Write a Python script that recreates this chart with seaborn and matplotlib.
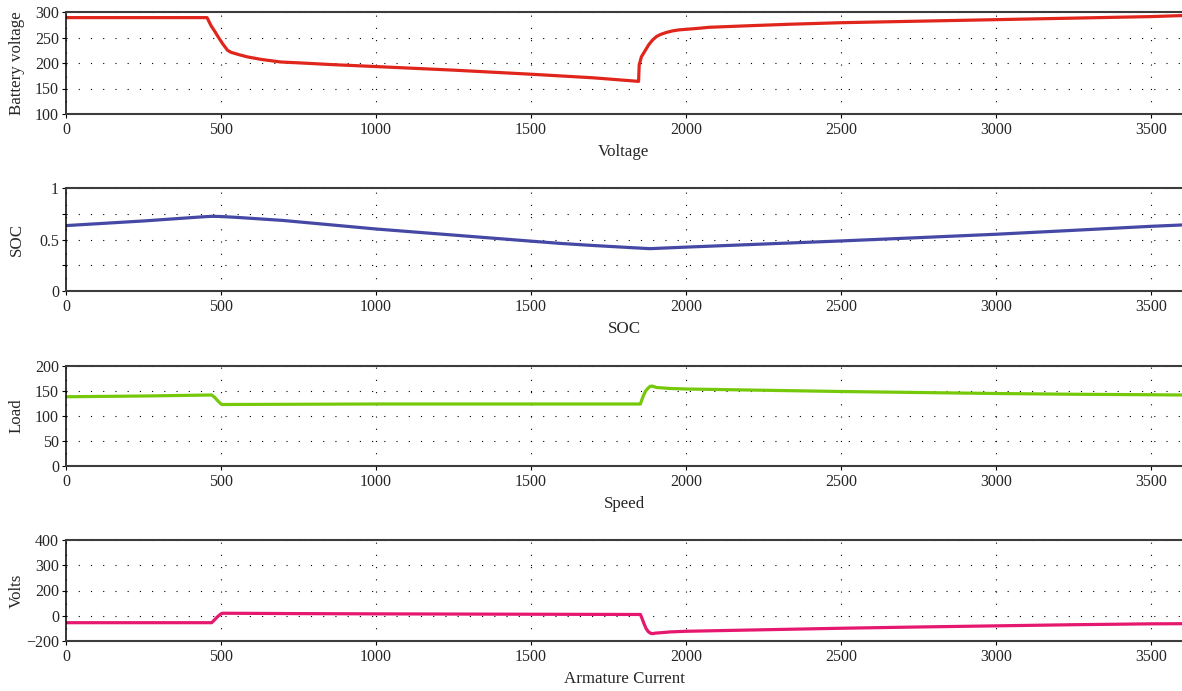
import numpy as np
import pandas as pd
import matplotlib
matplotlib.use("Agg")
import matplotlib.pyplot as plt
import seaborn as sns

# ---------------- data ----------------
x_ticks = [0, 500, 1000, 1500, 2000, 2500, 3000, 3500]

t_volt = [0, 455, 468, 480, 489, 505, 521, 532, 560, 585, 630, 692, 760, 853, 1000, 1250,
          1500, 1700, 1847, 1849, 1856, 1866, 1880, 1892, 1905, 1918, 1937, 1957, 1978,
          2000, 2040, 2074, 2200, 2334, 2500, 2750, 3000, 3250, 3500, 3600]
battery_voltage = [289, 289, 273, 262, 253, 238, 225, 221, 216, 212, 207, 202, 200, 197, 193, 186,
                   178, 171, 164, 196, 212, 222, 236, 245, 252, 256, 260, 263, 265,
                   266, 268, 270, 273, 276, 279, 282, 285, 288, 291, 293]

t_soc = [0, 250, 440, 470, 500, 550, 700, 1000, 1250, 1500, 1600, 1700, 1800, 1883,
         2000, 2250, 2500, 2750, 3000, 3250, 3500, 3600]
soc = [0.635, 0.68, 0.72, 0.725, 0.723, 0.715, 0.685, 0.602, 0.543, 0.484, 0.461, 0.442,
       0.425, 0.411, 0.426, 0.456, 0.486, 0.518, 0.551, 0.589, 0.628, 0.641]

t_load = [0, 250, 470, 480, 490, 500, 505, 750, 1000, 1500, 1853, 1859, 1865, 1871, 1878,
          1884, 1890, 1905, 1950, 2000, 2250, 2500, 2750, 3000, 3250, 3500, 3600]
load = [138.5, 140, 142, 137, 130, 124, 123, 123.5, 124, 124, 124, 135, 144, 151, 156,
        159, 160, 157, 155, 154, 151.5, 149, 147, 145, 143.5, 142.5, 142]

t_arm = [0, 250, 470, 480, 490, 500, 505, 750, 1000, 1500, 1853, 1858, 1864, 1871, 1878,
         1885, 1892, 1900, 1950, 2000, 2250, 2500, 2750, 3000, 3250, 3500, 3600]
armature = [-55, -55, -55, -30, -5, 15, 20, 17, 15, 12, 10, -20, -60, -100, -125,
            -138, -142, -138, -128, -123, -111, -99, -89, -80, -71, -64, -63]

panels = [
    dict(t=t_volt, y=battery_voltage, color="#e0261c", ylabel="Battery voltage", xlabel="Voltage"),
    dict(t=t_soc, y=soc, color="#4549a5", ylabel="SOC", xlabel="SOC"),
    dict(t=t_load, y=load, color="#76c80a", ylabel="Load", xlabel="Speed"),
    dict(t=t_arm, y=armature, color="#e5176e", ylabel="Volts", xlabel="Armature Current"),
]

volt_ticks = [100, 150, 200, 250, 300]
soc_ticks = [0, 0.25, 0.5, 0.75, 1]
soc_ticklabels = ["0", "", "0.5", "", "1"]
load_ticks = [0, 50, 100, 150, 200]
arm_ticks = [-200, 0, 200, 300, 400]

# ---------------- style ----------------
sns.set_style("white")
plt.rcParams["font.family"] = ["Liberation Serif", "DejaVu Serif"]
plt.rcParams["axes.unicode_minus"] = True

W, H = 1182, 691
fig = plt.figure(figsize=(W / 100, H / 100), dpi=100)

# axes boxes in pixels: (top, bottom)
boxes = [(12, 114), (188, 291), (366, 466), (540, 641)]
left_px = 66

axes = []
for (top, bot) in boxes:
    ax = fig.add_axes([left_px / W, 1 - bot / H, (W - left_px) / W, (bot - top) / H])
    axes.append(ax)

for ax, p in zip(axes, panels):
    df = pd.DataFrame({"t": p["t"], "v": p["y"]})
    sns.lineplot(data=df, x="t", y="v", ax=ax, color=p["color"], linewidth=2.3,
                 estimator=None, sort=False)
    ax.set_xlim(0, 3600)
    ax.set_xticks(x_ticks)
    ax.set_xlabel(p["xlabel"], fontsize=12.2, labelpad=4)
    ax.set_ylabel(p["ylabel"], fontsize=12.2)
    ax.tick_params(axis="both", which="major", labelsize=11.5, direction="out",
                   length=3, width=0.8, color="black", pad=2,
                   bottom=True, left=True, top=False, right=False)
    ax.tick_params(axis="x", pad=3)
    ax.grid(True, color="black", linestyle=(0, (1, 10)), linewidth=0.8)
    ax.spines["right"].set_visible(False)
    for s in ("top", "bottom"):
        ax.spines[s].set_color("#3c3c3c")
        ax.spines[s].set_linewidth(1.5)
    ax.spines["left"].set_color("black")
    ax.spines["left"].set_linewidth(1.1)

# y axes
axes[0].set_ylim(100, 300)
axes[0].set_yticks(volt_ticks)

axes[1].set_ylim(0, 1)
axes[1].set_yticks(soc_ticks, labels=soc_ticklabels)

axes[2].set_ylim(0, 200)
axes[2].set_yticks(load_ticks)

pos = np.arange(len(arm_ticks), dtype=float)
def fwd(v):
    return np.interp(v, arm_ticks, pos)
def inv(p):
    return np.interp(p, pos, arm_ticks)
axes[3].set_yscale("function", functions=(fwd, inv))
axes[3].set_ylim(-200, 400)
axes[3].set_yticks(arm_ticks)
axes[3].yaxis.set_major_formatter(matplotlib.ticker.FuncFormatter(
    lambda v, _: f"{int(round(v))}".replace("-", "\u2212")))
axes[3].yaxis.set_minor_locator(matplotlib.ticker.NullLocator())

for ax in axes:
    ax.yaxis.set_label_coords(-0.037, 0.5)

fig.savefig("out.png", dpi=100)
